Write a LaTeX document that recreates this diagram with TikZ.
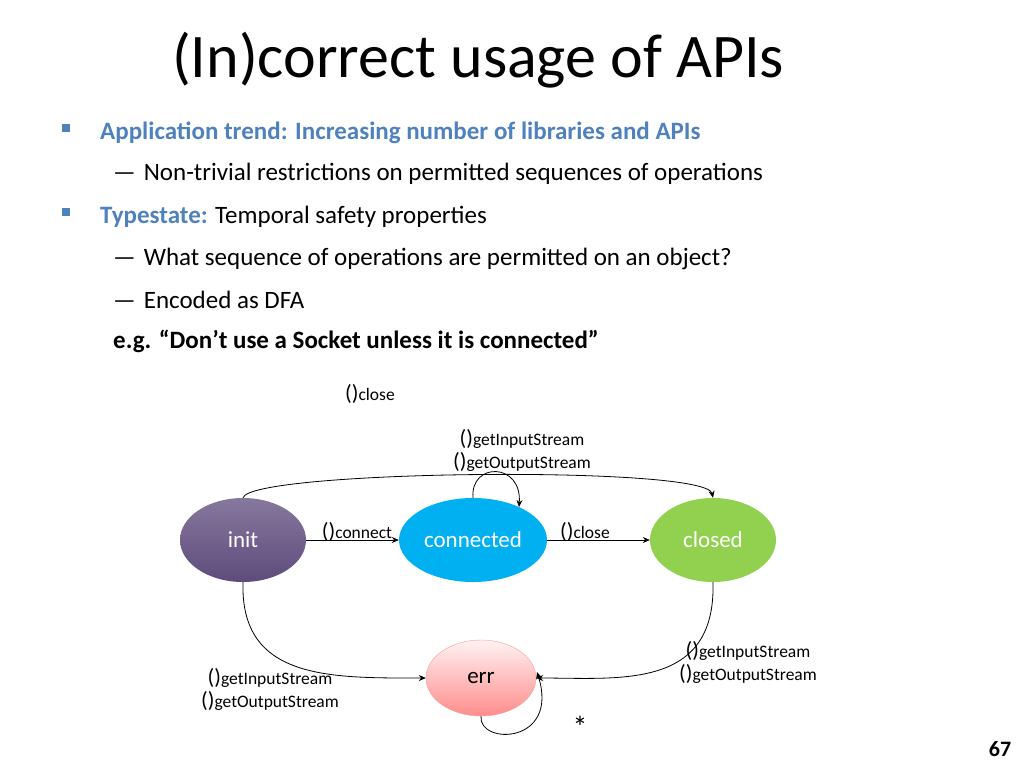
\documentclass[tikz,border=0pt]{standalone}
\usepackage{fontspec}
\setmainfont{Carlito}
\usetikzlibrary{shapes.geometric,arrows.meta}
\definecolor{hdblue}{HTML}{4F81BD}
\definecolor{initcol}{HTML}{5E4B7C}
\definecolor{conncol}{HTML}{00B0F0}
\definecolor{closedcol}{HTML}{92D050}
\newcommand{\pp}{{\fontsize{22}{22}\selectfont ()}}
\begin{document}
\begin{tikzpicture}[x=1pt,y=-1pt,
  st/.style={ellipse,minimum width=126pt,minimum height=84pt,font=\fontsize{23}{25}\selectfont,text=white},
  lbl/.style={font=\fontsize{17.5}{23}\selectfont,align=center,inner sep=0pt},
  arr/.style={-{Stealth[length=7pt,width=6pt]},thick},
  txt/.style={anchor=west,inner sep=0pt,font=\fontsize{25}{28}\selectfont}]
\useasboundingbox (0,0) rectangle (1024,768);

% title and bullets
\node (title) at (478,60) {\fontsize{62}{66}\selectfont (In)correct usage of APIs};
\fill[hdblue] (62,124) rectangle (70,132);
\fill[hdblue] (62,208) rectangle (70,216);
\node[txt,text=hdblue] (b1) at (100,133) {\bfseries Application trend: Increasing number of libraries and APIs};
\node[txt] (b1a) at (113,174) {—\hspace{8pt}Non-trivial restrictions on permitted sequences of operations};
\node[txt] (b2) at (100,217) {\textcolor{hdblue}{\bfseries Typestate:} Temporal safety properties};
\node[txt] (b2a) at (113,259) {—\hspace{8pt}What sequence of operations are permitted on an object?};
\node[txt] (b2b) at (113,300) {—\hspace{8pt}Encoded as DFA};
\node[txt] (eg) at (113,341) {\bfseries e.g. “Don’t use a Socket unless it is connected”};

% states
\node[st,top color=initcol!75!white,bottom color=initcol,shading angle=0] (init) at (243,540) {init};
\node[st,fill=conncol] (conn) at (473,540) {connected};
\node[st,fill=closedcol] (closed) at (713,540) {closed};
\node[st,minimum width=110pt,minimum height=76pt,top color=red!5,bottom color=red!45,draw=red!40,text=black] (err) at (481,678) {err};

% transitions
\draw[arr] (init) -- (conn);
\draw[arr] (conn) -- (closed);
\draw[arr] (conn.north) .. controls (470,462) and (522,462) .. (519,507);
\draw[arr] (init.north) .. controls (250,470) and (706,465) .. (closed.north);
\draw[arr] (init.south) .. controls (240,680) and (330,678) .. (err.west);
\draw[arr] (closed.south) .. controls (716,690) and (620,678) .. (err.east);
\draw[arr] (err.south) .. controls (478,745) and (560,745) .. (537,672);

% labels
\node[lbl] (lclose1) at (370,394) {\pp close};
\node[lbl] (lloop) at (522,450) {\pp getInputStream\\\pp getOutputStream};
\node[lbl] (lconn) at (357,532) {\pp connect};
\node[lbl] (lclose2) at (585,532) {\pp close};
\node[lbl] (lerr1) at (270,689) {\pp getInputStream\\\pp getOutputStream};
\node[lbl] (lerr2) at (748,662) {\pp getInputStream\\\pp getOutputStream};
\node[lbl,font=\fontsize{30}{30}\selectfont] (star) at (580,727) {*};
\node[font=\fontsize{22}{24}\selectfont\bfseries] (page) at (1000,749) {67};
\end{tikzpicture}
\end{document}
